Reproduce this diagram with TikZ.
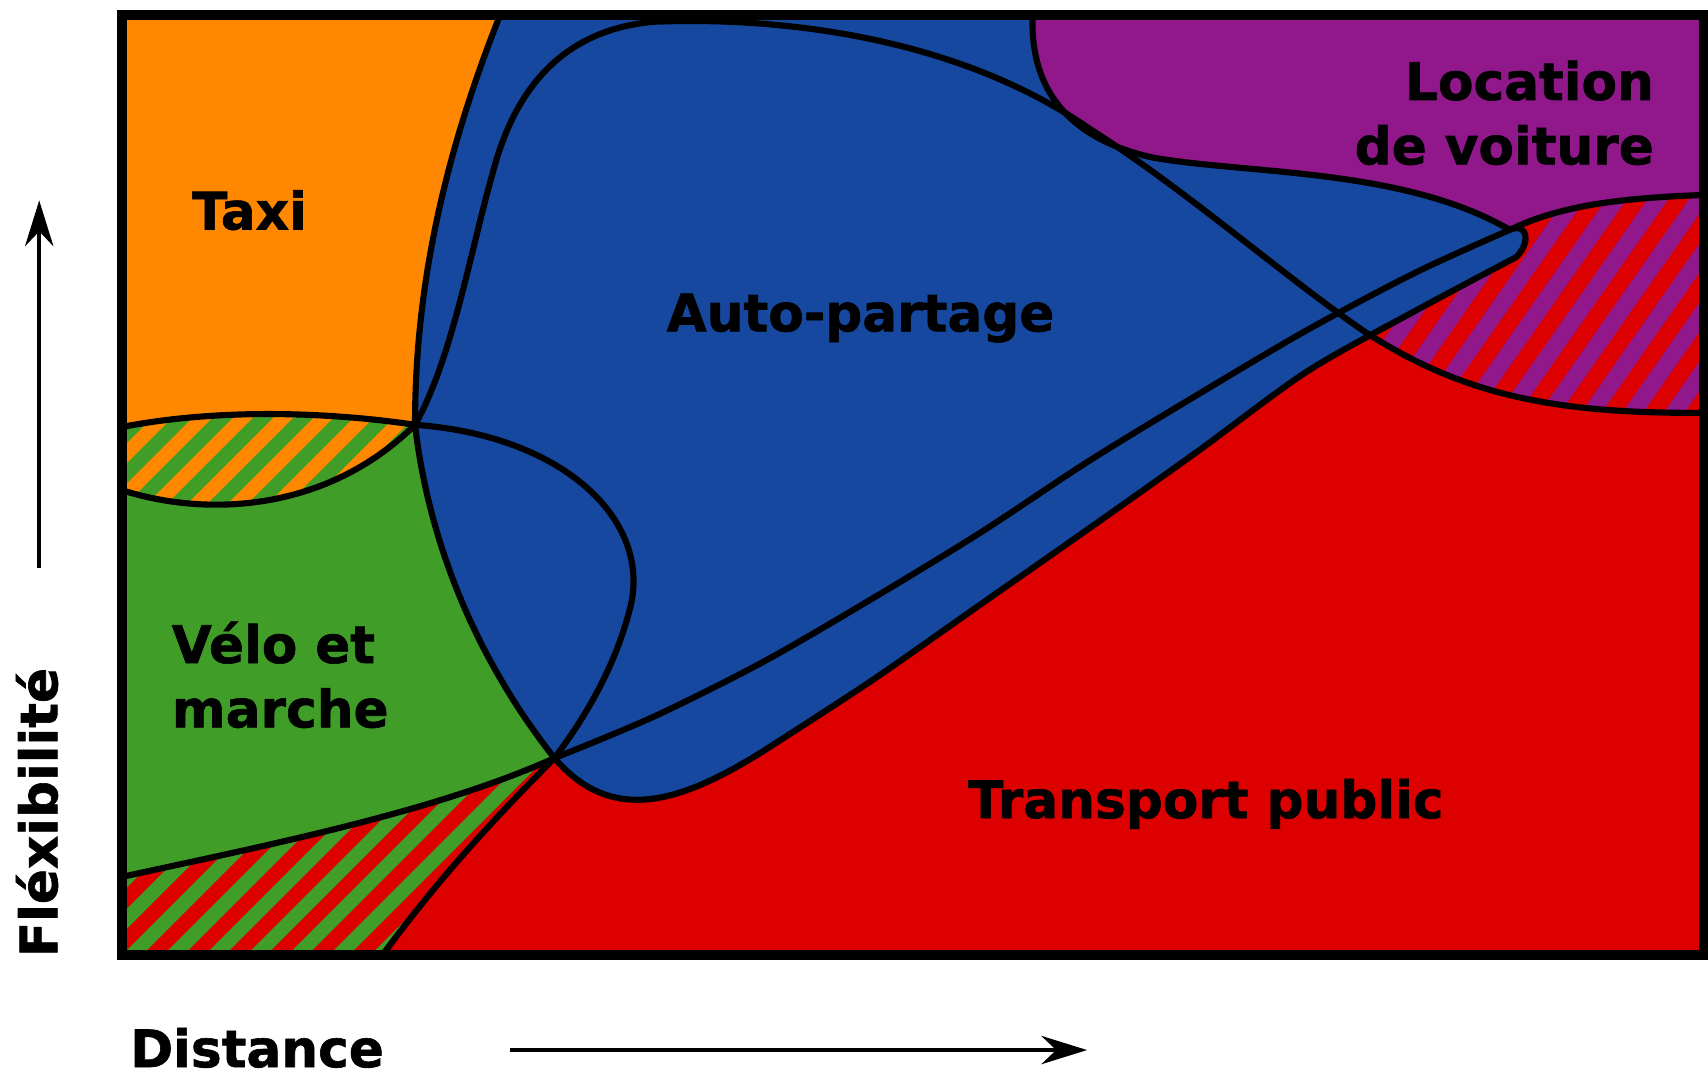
\documentclass[tikz,border=0pt]{standalone}
\usepackage{fontspec}
\setmainfont{DejaVu Sans}[BoldFeatures={FakeBold=1.2}]
\usetikzlibrary{arrows.meta}

\definecolor{taxiorange}{RGB}{255,136,0}
\definecolor{autoblue}{RGB}{22,72,160}
\definecolor{velogreen}{RGB}{64,158,40}
\definecolor{transred}{RGB}{220,0,0}
\definecolor{locpurple}{RGB}{145,24,138}

\begin{document}
\begin{tikzpicture}[
  x=0.01cm, y=-0.01cm,
  font=\fontsize{13.5}{16.8}\selectfont\bfseries,
  border/.style={line width=2.6pt},
  boundary/.style={line width=1.6pt, line join=round},
  stripe/.style={line width=3.7pt},
  mode/.style={inner sep=0pt},
  axis/.style={-{Stealth[length=0.42cm,width=0.26cm]}, line width=1pt}
]
\useasboundingbox (0,0) rectangle (1568,986);

% background: car sharing everywhere
\fill[autoblue] (112,14) rectangle (1564,877);

% public transport (also under the rental overlap)
\fill[transred] (351,877) .. controls (400,810) and (450,755) .. (509,696)
  .. controls (560,755) and (620,740) .. (700,690)
  -- plot[smooth] coordinates {(700,690) (800,625) (900,555) (1000,485) (1100,414) (1200,341) (1300,285) (1392,236)}
  .. controls (1406,222) and (1402,204) .. (1386,211)
  .. controls (1430,190) and (1480,182) .. (1564,179) -- (1564,877) -- cycle;
\begin{scope}
  \clip (1255,306) .. controls (1340,360) and (1420,380) .. (1564,379) -- (1564,179)
    .. controls (1480,182) and (1430,190) .. (1386,211)
    .. controls (1402,204) and (1406,222) .. (1392,236) -- (1300,285) -- cycle;
  \foreach \s in {1180,1218,...,1600}
    \draw[stripe, line width=4.4pt, locpurple] (\s,400) -- ++(180,-257);
\end{scope}

% car rental
\fill[locpurple] (948,14) -- (1564,14) -- (1564,179)
  .. controls (1480,182) and (1430,190) .. (1386,211)
  .. controls (1290,155) and (1150,160) .. (1060,145)
  .. controls (990,130) and (945,90) .. (948,14) -- cycle;

% taxi
\fill[taxiorange] (112,14) -- (459,14) .. controls (405,150) and (381,270) .. (381,390)
  .. controls (300,378) and (200,375) .. (112,392) -- cycle;
\begin{scope}
  \clip (112,392) .. controls (200,375) and (300,378) .. (381,390)
    .. controls (300,470) and (190,475) .. (112,450) -- cycle;
  \fill[taxiorange] (100,370) rectangle (400,480);
  \foreach \s in {-40,-3,...,440}
    \draw[stripe, velogreen] (\s,480) -- ++(130,-130);
\end{scope}

% bike and walking
\fill[velogreen] (112,450) .. controls (190,475) and (300,470) .. (381,390)
  .. controls (395,510) and (445,615) .. (509,696)
  .. controls (400,745) and (250,775) .. (112,805) -- cycle;
\begin{scope}
  \clip (112,805) .. controls (250,775) and (400,745) .. (509,696)
    .. controls (450,755) and (400,810) .. (351,877) -- (112,877) -- cycle;
  \fill[transred] (100,680) rectangle (520,890);
  \foreach \s in {-120,-82,...,540}
    \draw[stripe, velogreen] (\s,890) -- ++(230,-230);
\end{scope}

% outlines
\draw[boundary] (459,14) .. controls (405,150) and (381,270) .. (381,390);
\draw[boundary] (112,392) .. controls (200,375) and (300,378) .. (381,390);
\draw[boundary] (112,450) .. controls (190,475) and (300,470) .. (381,390);
\draw[boundary] (381,390) .. controls (395,510) and (445,615) .. (509,696);
\draw[boundary] (112,805) .. controls (250,775) and (400,745) .. (509,696);
\draw[boundary] (509,696) .. controls (450,755) and (400,810) .. (351,877);
\draw[boundary] (381,390) .. controls (520,400) and (600,480) .. (578,560)
  .. controls (565,610) and (540,655) .. (509,696);
\draw[boundary] (381,390) .. controls (415,330) and (432,230) .. (452,160)
  .. controls (470,90) and (510,28) .. (600,20)
  .. controls (720,15) and (880,35) .. (1000,118)
  .. controls (1090,175) and (1180,255) .. (1255,306)
  .. controls (1340,360) and (1420,380) .. (1564,379);
\draw[boundary] (948,14) .. controls (945,90) and (990,130) .. (1060,145)
  .. controls (1150,160) and (1290,155) .. (1386,211);
\draw[boundary] (1386,211) .. controls (1430,190) and (1480,182) .. (1564,179);
\draw[boundary] plot[smooth] coordinates {(509,696) (600,658) (700,608) (800,550) (900,489) (1000,423) (1100,362) (1200,303) (1300,250) (1386,211)}
  .. controls (1402,204) and (1406,222) .. (1392,236)
  -- plot[smooth] coordinates {(1392,236) (1300,285) (1200,341) (1100,414) (1000,485) (900,555) (800,625) (700,690)}
  .. controls (620,740) and (560,755) .. (509,696);

\draw[border] (112,14) rectangle (1564,877);

% labels
\node[mode] (taxi) at (229,193) {Taxi};
\node[mode] (auto) at (790,292) {Auto-partage};
\node[mode, align=right, anchor=north east] (location) at (1519,55) {Location\\de voiture};
\node[mode, align=left, anchor=north west] (velo) at (157,570) {Vélo et\\marche};
\node[mode] (transport) at (1107,738) {Transport public};

% axes
\node[mode, rotate=90] (flex) at (34,746) {Fléxibilité};
\node[mode] (dist) at (236,962) {Distance};
\coordinate (ylow) at (36,521);
\coordinate (ytop) at (36,184);
\draw[axis] (ylow) -- (ytop);
\coordinate (xleft) at (468,964);
\coordinate (xright) at (998,964);
\draw[axis] (xleft) -- (xright);
\end{tikzpicture}
\end{document}
